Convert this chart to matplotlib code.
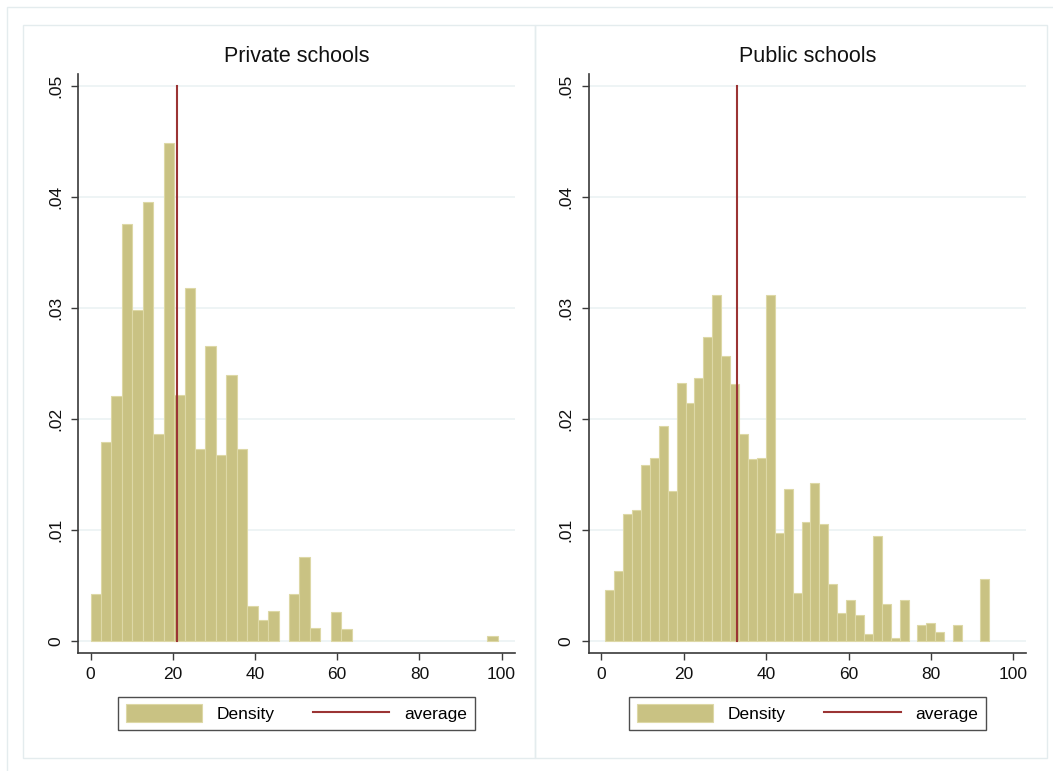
import numpy as np
import matplotlib
matplotlib.use("Agg")
import matplotlib.pyplot as plt
from matplotlib.patches import Rectangle, Patch
from matplotlib.lines import Line2D

plt.rcParams['font.family'] = ['Liberation Sans', 'DejaVu Sans']

# ---------------- data ----------------
titles = ["Private schools", "Public schools"]

# Private schools: bins start at 0, width ~2.54
private_start = 0.0
private_width = 2.54
private_density = [0.00423, 0.0179, 0.02207, 0.03757, 0.02983, 0.03957, 0.01863,
                   0.04483, 0.02217, 0.0318, 0.0173, 0.02657, 0.01673, 0.024,
                   0.0173, 0.00313, 0.0019, 0.0027, 0.0, 0.0042, 0.00754, 0.0012,
                   0.0, 0.00258, 0.00111, 0.0, 0.0, 0.0, 0.0, 0.0, 0.0, 0.0,
                   0.0, 0.0, 0.0, 0.0, 0.0, 0.0, 0.00045]
private_mean = 21.0

# Public schools: bins start at ~0.97, width ~2.165
public_start = 0.97
public_width = 2.165
public_density = [0.00457, 0.00632, 0.0114, 0.01179, 0.01582, 0.01645, 0.01937,
                  0.01347, 0.02328, 0.02147, 0.02373, 0.02743, 0.03119, 0.02568,
                  0.02316, 0.01862, 0.01639, 0.01651, 0.03119, 0.00977, 0.01365,
                  0.00433, 0.01071, 0.01426, 0.01053, 0.00517, 0.00253, 0.00367,
                  0.00235, 0.00066, 0.0095, 0.00337, 0.0003, 0.00367, 0.0,
                  0.00147, 0.00162, 0.00081, 0.0, 0.00141, 0.0, 0.0, 0.00559]
public_mean = 33.0

xticks = [0, 20, 40, 60, 80, 100]
yticks = [0, 0.01, 0.02, 0.03, 0.04, 0.05]
ytick_labels = ["0", ".01", ".02", ".03", ".04", ".05"]
legend_labels = ["Density", "average"]

# ---------------- style ----------------
W, H = 1053, 771
bar_color = "#C9C283"
bar_edge = "#DDD8A6"
mean_color = "#9B3434"
grid_color = "#EAF1F3"
frame_color = "#E4ECEE"
axis_color = "#3a3a3a"

fig = plt.figure(figsize=(W / 100, H / 100), dpi=100)
fig.patch.set_facecolor("white")


def fx(px):
    return px / W


def fy(py):
    return 1 - py / H


# outer + panel frames
fig.add_artist(Rectangle((fx(7), fy(790)), fx(1060), fy(7.3) - fy(790),
                         transform=fig.transFigure, fill=False,
                         edgecolor=frame_color, lw=1.0))
for (x0, x1) in [(23, 535), (534.7, 1046.7)]:
    fig.add_artist(Rectangle((fx(x0), fy(758.3)), fx(x1) - fx(x0), fy(24.7) - fy(758.3),
                             transform=fig.transFigure, fill=False,
                             edgecolor=frame_color, lw=1.0))

panels = [
    dict(ax_left=78.3, ax_right=515, x0px=90.6, ppu=4.11,
         start=private_start, width=private_width, dens=private_density,
         mean=private_mean, title=titles[0], leg_cx=296.2),
    dict(ax_left=589, ax_right=1026, x0px=601.3, ppu=4.12,
         start=public_start, width=public_width, dens=public_density,
         mean=public_mean, title=titles[1], leg_cx=807.5),
]

ax_top, ax_bot = 74.0, 653.3
y0px, ppy = 641.0, 11100.0

for p in panels:
    ax = fig.add_axes([fx(p["ax_left"]), fy(ax_bot),
                       fx(p["ax_right"]) - fx(p["ax_left"]), fy(ax_top) - fy(ax_bot)])
    xl = (p["ax_left"] - p["x0px"]) / p["ppu"]
    xr = (p["ax_right"] - p["x0px"]) / p["ppu"]
    yb = -(ax_bot - y0px) / ppy
    yt = 0.05 + (86 - ax_top) / ppy
    ax.set_xlim(xl, xr)
    ax.set_ylim(yb, yt)

    for yv in yticks:
        ax.axhline(yv, color=grid_color, lw=1.1, zorder=0)

    dens = np.array(p["dens"])
    lefts = p["start"] + p["width"] * np.arange(len(dens))
    mask = dens > 0
    ax.bar(lefts[mask], dens[mask], width=p["width"], align="edge",
           color=bar_color, edgecolor=bar_edge, linewidth=0.8, zorder=2)
    ax.plot([p["mean"], p["mean"]], [0, 0.05], color=mean_color, lw=1.5, zorder=3)

    for s in ["top", "right"]:
        ax.spines[s].set_visible(False)
    for s in ["left", "bottom"]:
        ax.spines[s].set_color(axis_color)
        ax.spines[s].set_linewidth(1.2)

    ax.set_xticks(xticks)
    ax.set_xticklabels([str(v) for v in xticks], fontsize=12.5)
    ax.set_yticks(yticks)
    ax.set_yticklabels(ytick_labels, fontsize=12.5, rotation=90, va="center")
    ax.tick_params(axis="both", direction="out", length=5, width=1.0,
                   color=axis_color, labelcolor="#111111")
    ax.tick_params(axis="x", pad=5)
    ax.tick_params(axis="y", pad=6)
    ax.set_facecolor("none")

    fig.text(fx((p["ax_left"] + p["ax_right"]) / 2), fy(57), p["title"],
             ha="center", va="center", fontsize=15.5, color="#111111")

    handles = [Patch(facecolor=bar_color, edgecolor=bar_edge, linewidth=0.8),
               Line2D([0], [0], color=mean_color, lw=1.5)]
    leg = fig.legend(handles, legend_labels, loc="center",
                     bbox_to_anchor=(fx(p["leg_cx"]), fy(713.3)),
                     ncol=2, fontsize=12.5, frameon=True, fancybox=False,
                     handlelength=4.4, handleheight=1.2, handletextpad=0.85,
                     columnspacing=2.2, borderpad=0.45, borderaxespad=0)
    leg.get_frame().set_edgecolor("#222222")
    leg.get_frame().set_linewidth(1.0)

fig.savefig("out.png", dpi=100, facecolor="white")
